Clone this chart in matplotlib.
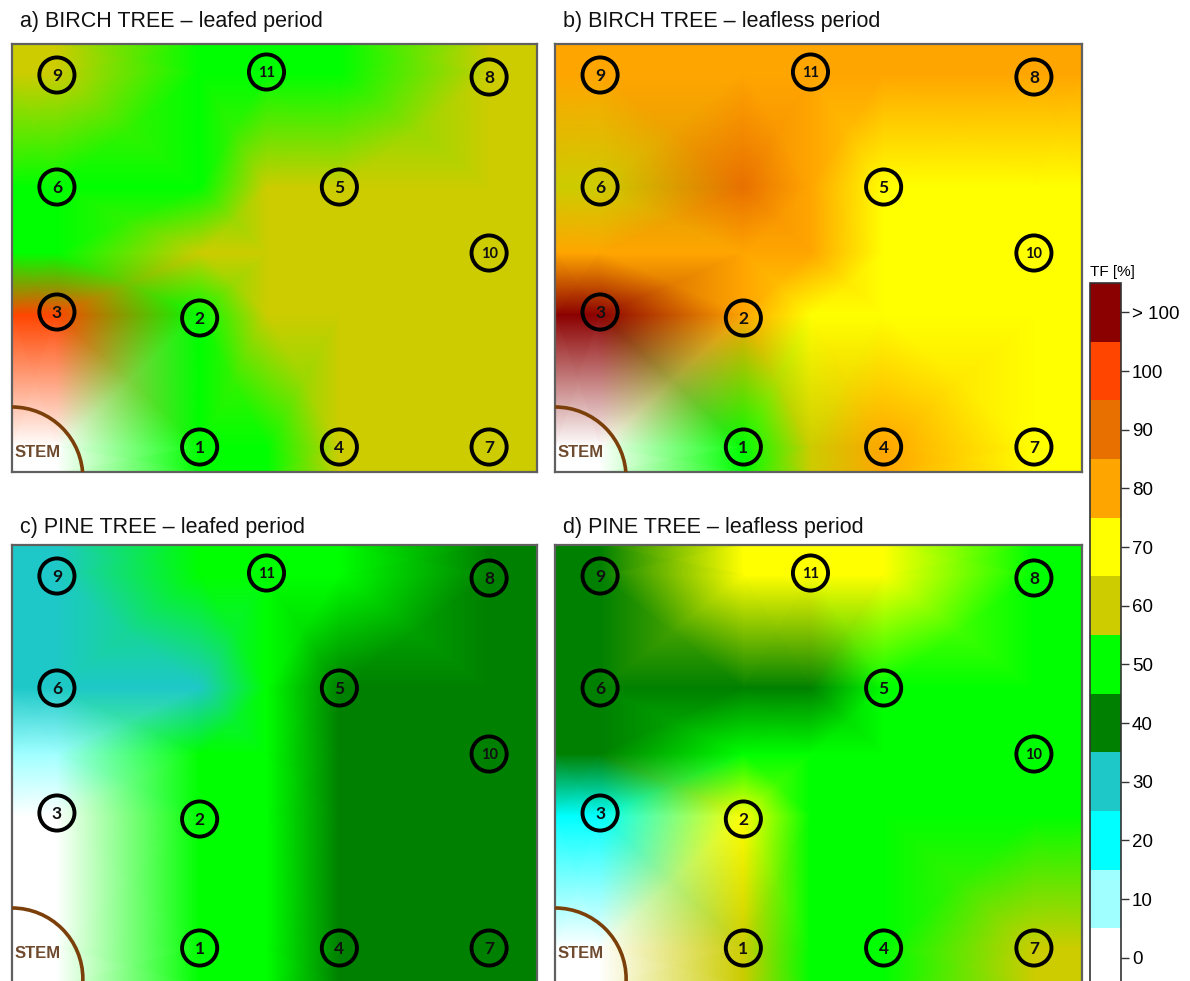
import matplotlib.pyplot as plt
import numpy as np
from matplotlib.colors import ListedColormap, BoundaryNorm
from matplotlib.cm import ScalarMappable
from matplotlib.patches import Circle

plt.rcParams['font.family'] = ['Liberation Sans', 'DejaVu Sans']

# TF classes and their colours
tf_levels = [0, 10, 20, 30, 40, 50, 60, 70, 80, 90, 100, 110]
tf_labels = ['0', '10', '20', '30', '40', '50', '60', '70', '80', '90', '100', '> 100']
tf_colors = ['#FFFFFF', '#A0FFFF', '#00FFFF', '#1EC8C8', '#008000', '#00FF00',
             '#CCCC00', '#FFFF00', '#FFA500', '#E87000', '#FF4500', '#8B0000']

# collector positions (px from the panel's top-left corner)
collector_id = ['9', '11', '8', '6', '5', '10', '3', '2', '1', '4', '7']
collector_x = [45, 255, 478, 45, 328, 478, 45, 188, 188, 328, 478]
collector_y = [31, 28, 33, 143, 143, 209, 268, 274, 403, 403, 403]

# interpolation grid nodes: columns and rows (last row = panel bottom)
grid_cols = [0, 45, 188, 255, 328, 478, 526]
grid_rows = [0, 30, 143, 209, 271, 403]

# TF [%] at grid nodes, one row per grid row, plus the bottom edge row
birch_leafed = [
    [60, 60, 50, 50, 50, 60, 60],
    [60, 60, 50, 50, 50, 60, 60],
    [50, 50, 50, 60, 60, 60, 60],
    [50, 50, 60, 60, 60, 60, 60],
    [100, 100, 50, 60, 60, 60, 60],
    [0, 0, 50, 50, 60, 60, 60],
    [0, 0, 50, 50, 60, 60, 60],
]
birch_leafless = [
    [80, 80, 80, 80, 80, 80, 80],
    [80, 80, 80, 80, 80, 80, 80],
    [60, 60, 90, 80, 70, 70, 70],
    [80, 80, 80, 80, 70, 70, 70],
    [110, 110, 80, 70, 70, 70, 70],
    [0, 0, 50, 60, 80, 70, 70],
    [0, 0, 50, 60, 80, 70, 70],
]
pine_leafed = [
    [30, 30, 50, 50, 50, 40, 40],
    [30, 30, 50, 50, 50, 40, 40],
    [30, 30, 30, 50, 40, 40, 40],
    [10, 10, 50, 50, 40, 40, 40],
    [0, 0, 50, 50, 40, 40, 40],
    [0, 0, 50, 50, 40, 40, 40],
    [0, 0, 50, 50, 40, 40, 40],
]
pine_leafless = [
    [40, 40, 70, 70, 70, 50, 50],
    [40, 40, 70, 70, 70, 50, 50],
    [40, 40, 40, 40, 50, 50, 50],
    [40, 40, 50, 50, 50, 50, 50],
    [20, 20, 70, 50, 50, 50, 50],
    [0, 0, 60, 50, 50, 60, 60],
    [0, 0, 60, 50, 50, 60, 60],
]

panels = [
    ('a) BIRCH TREE \u2013 leafed period', birch_leafed, (12, 44, 537, 472)),
    ('b) BIRCH TREE \u2013 leafless period', birch_leafless, (555, 44, 1082, 472)),
    ('c) PINE TREE \u2013 leafed period', pine_leafed, (12, 545, 537, 985)),
    ('d) PINE TREE \u2013 leafless period', pine_leafless, (555, 545, 1082, 985)),
]

FW, FH = 1190, 981
fig = plt.figure(figsize=(FW / 100, FH / 100), dpi=100)


def px_rect(x0, y0, x1, y1):
    return [x0 / FW, 1 - y1 / FH, (x1 - x0) / FW, (y1 - y0) / FH]


cmap = ListedColormap(tf_colors)
bounds = [v - 5 for v in tf_levels] + [tf_levels[-1] + 5]
norm = BoundaryNorm(bounds, cmap.N)

for title, values, box in panels:
    ax = fig.add_axes(px_rect(*box))
    h = box[3] - box[1]
    rows = grid_rows + [h]
    X, Y = np.meshgrid(grid_cols, rows)
    ax.pcolormesh(X, Y, np.array(values), cmap=cmap, norm=norm, shading='gouraud')
    ax.set_xlim(0, grid_cols[-1])
    ax.set_ylim(h, 0)
    ax.set_xticks([])
    ax.set_yticks([])
    for s in ax.spines.values():
        s.set_color('#606060')
        s.set_linewidth(1.6)

    # stem
    ax.add_patch(Circle((0, 434), 71, facecolor='none', edgecolor='#7B3F0A',
                        linewidth=2.6, zorder=3))
    ax.text(3, 408, 'STEM', color='#6E4A2E', fontsize=12, fontweight='bold',
            ha='left', va='center', zorder=4)

    # collectors
    ax.scatter(collector_x, collector_y, s=640, facecolors='none',
               edgecolors='black', linewidths=2.8, zorder=5)
    for cid, cx, cy in zip(collector_id, collector_x, collector_y):
        ax.text(cx, cy + 1, cid, fontsize=12.5 if len(cid) == 1 else 10.5,
                fontweight='bold', family=['Lato', 'DejaVu Sans'],
                ha='center', va='center', color='#111111', zorder=6)

    fig.text((box[0] + 8) / FW, 1 - 22 / FH if box[1] < 100 else 1 - 527 / FH,
             title, fontsize=15.5, ha='left', va='center', color='#111111')

# colour scale
cax = fig.add_axes(px_rect(1090, 283, 1121, 987))
sm = ScalarMappable(norm=norm, cmap=cmap)
cb = fig.colorbar(sm, cax=cax, ticks=tf_levels)
cb.minorticks_off()
cb.ax.set_yticklabels(tf_labels)
cb.ax.tick_params(labelsize=13.5, length=6, width=1, color='#333333', pad=2)
cb.outline.set_edgecolor('#333333')
cb.outline.set_linewidth(1.2)
fig.text(1090 / FW, 1 - 272 / FH, 'TF [%]', fontsize=11, ha='left', va='center')

fig.savefig('out.png', dpi=100)
